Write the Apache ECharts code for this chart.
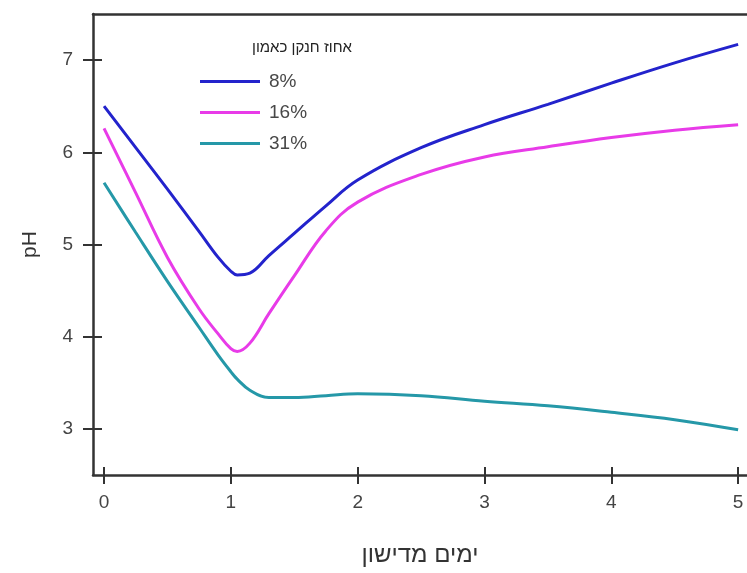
<!DOCTYPE html>
<html><head><meta charset="utf-8">
<script src="https://cdn.jsdelivr.net/npm/echarts@6/dist/echarts.min.js"></script>
<style>html,body{margin:0;padding:0;background:#fff}#c{width:747px;height:573px}</style>
</head><body><div id="c"></div>
<script>
const days = [0, 0.25, 0.5, 0.75, 0.9, 1.0, 1.05, 1.15, 1.3, 1.5, 1.75, 2, 2.5, 3, 3.5, 4, 4.5, 5];
const ph8  = [6.50, 6.05, 5.60, 5.14, 4.86, 4.71, 4.67, 4.69, 4.88, 5.12, 5.42, 5.70, 6.05, 6.30, 6.52, 6.75, 6.97, 7.17];
const ph16 = [6.26, 5.56, 4.86, 4.30, 4.03, 3.87, 3.84, 3.93, 4.25, 4.66, 5.15, 5.46, 5.76, 5.95, 6.06, 6.16, 6.24, 6.30];
const ph31 = [5.67, 5.13, 4.60, 4.10, 3.80, 3.62, 3.54, 3.42, 3.34, 3.34, 3.36, 3.38, 3.36, 3.30, 3.25, 3.18, 3.10, 2.99];
const seriesNames = ['8%', '16%', '31%'];
const xTicks = [0, 1, 2, 3, 4, 5];
const yTicks = [3, 4, 5, 6, 7];
const legendTitle = 'אחוז חנקן כאמון';
const xTitle = 'ימים מדישון';
const yTitle = 'pH';

const colors = ['#2323cc', '#e83be8', '#2598a8'];
const font = 'Liberation Sans, Arial, sans-serif';
const chart = echarts.init(document.getElementById('c'));
const pair = ys => days.map((d, i) => [d, ys[i]]);
const axisLineStyle = { color: '#333', width: 2.5 };
const xBase = { type: 'value', min: -0.087, max: 5.07, splitLine: { show: false } };
const yBase = { type: 'value', min: 2.5, max: 7.5, splitLine: { show: false } };

chart.setOption({
  animation: false,
  backgroundColor: '#fff',
  textStyle: { fontFamily: font },
  title: {
    text: legendTitle, left: 247, top: 35,
    textStyle: { fontSize: 15, fontWeight: 'normal', color: '#222', fontFamily: font }
  },
  legend: {
    orient: 'vertical', left: 195, top: 61,
    icon: 'rect',
    itemWidth: 60, itemHeight: 3, itemGap: 0,
    data: seriesNames,
    textStyle: { fontSize: 19, color: '#484848', fontFamily: font, lineHeight: 31, padding: [0, 0, 0, 4] }
  },
  grid: { left: 93, right: 0, top: 14, bottom: 98, containLabel: false },
  xAxis: [
    Object.assign({}, xBase, {
      position: 'bottom',
      name: xTitle, nameLocation: 'middle', nameGap: 68,
      nameTextStyle: { fontSize: 24, color: '#333', fontFamily: font },
      axisLine: { show: true, onZero: false, lineStyle: axisLineStyle },
      axisTick: { show: true, length: 9, customValues: xTicks, lineStyle: { color: '#333', width: 2 } },
      axisLabel: { show: true, customValues: xTicks, margin: 18, fontSize: 19, color: '#444' }
    }),
    Object.assign({}, xBase, {
      position: 'bottom',
      axisLine: { show: false, onZero: false },
      axisTick: { show: true, inside: true, length: 8, customValues: xTicks, lineStyle: { color: '#333', width: 2 } },
      axisLabel: { show: false }
    }),
    Object.assign({}, xBase, {
      position: 'top',
      axisLine: { show: true, onZero: false, lineStyle: axisLineStyle },
      axisTick: { show: false },
      axisLabel: { show: false }
    })
  ],
  yAxis: [
    Object.assign({}, yBase, {
      position: 'left',
      name: yTitle, nameLocation: 'middle', nameGap: 52,
      nameTextStyle: { fontSize: 21, color: '#333', fontFamily: font },
      axisLine: { show: true, onZero: false, lineStyle: axisLineStyle },
      axisTick: { show: true, length: 10, customValues: yTicks, lineStyle: { color: '#333', width: 2 } },
      axisLabel: { show: true, customValues: yTicks, margin: 20, fontSize: 19, color: '#444' }
    }),
    Object.assign({}, yBase, {
      position: 'left',
      axisLine: { show: false, onZero: false },
      axisTick: { show: true, inside: true, length: 9, customValues: yTicks, lineStyle: { color: '#333', width: 2 } },
      axisLabel: { show: false }
    })
  ],
  series: [ph8, ph16, ph31].map((ys, i) => ({
    name: seriesNames[i],
    type: 'line',
    xAxisIndex: 0, yAxisIndex: 0,
    data: pair(ys),
    smooth: 0.4,
    symbol: 'none',
    lineStyle: { color: colors[i], width: 3 },
    itemStyle: { color: colors[i] }
  }))
});
</script></body></html>
